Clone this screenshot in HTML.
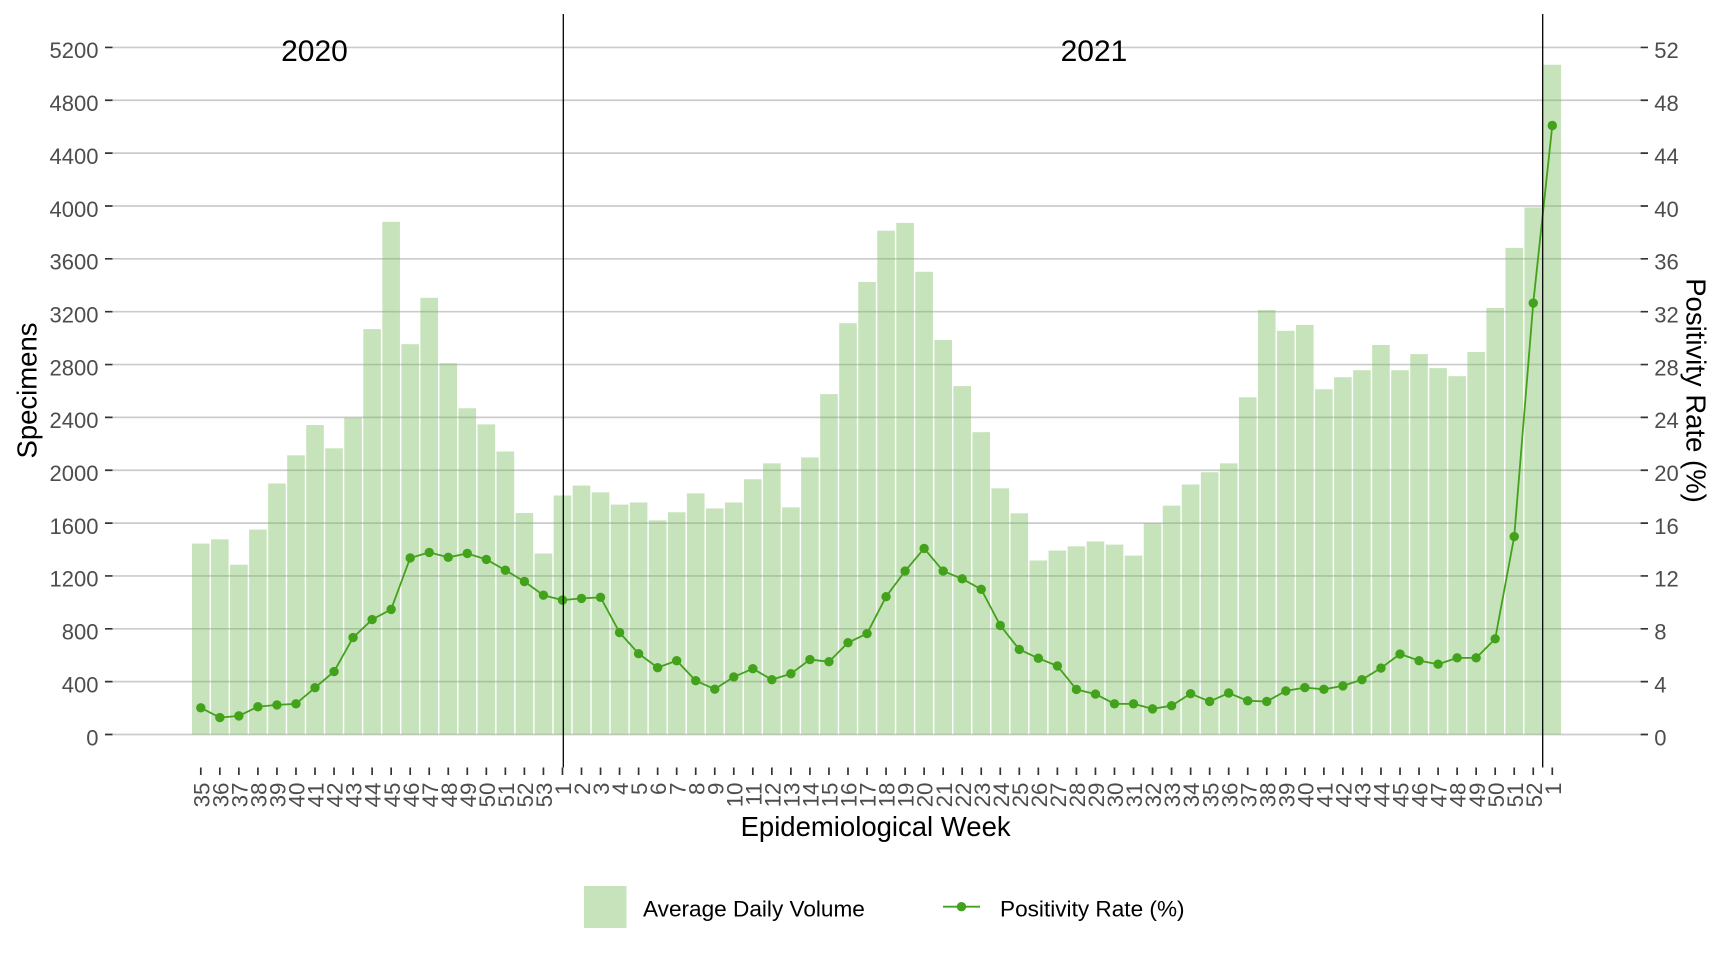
<!DOCTYPE html>
<html>
<head>
<meta charset="utf-8">
<style>
html,body{margin:0;padding:0;background:#fff;}
svg{display:block;}
text{font-family:"Liberation Sans",Arial,sans-serif;}
.yl{font-size:22px;fill:#4d4d4d;text-anchor:end;}
.yr{font-size:22px;fill:#4d4d4d;text-anchor:start;}
.xl{font-size:22.4px;fill:#4d4d4d;text-anchor:end;}
.ttl{font-size:27.5px;fill:#000;text-anchor:middle;}
.yr20{font-size:30px;fill:#000;text-anchor:middle;}
.lg{font-size:22.6px;fill:#000;}
</style>
</head>
<body>
<svg width="1728" height="960" viewBox="0 0 1728 960" xmlns="http://www.w3.org/2000/svg">
<rect width="1728" height="960" fill="#fff"/>

<!-- gridlines -->
<g stroke="#cccccc" stroke-width="1.7">
<line x1="112.5" x2="1640" y1="734.5" y2="734.5"/>
<line x1="112.5" x2="1640" y1="681.65" y2="681.65"/>
<line x1="112.5" x2="1640" y1="628.8" y2="628.8"/>
<line x1="112.5" x2="1640" y1="575.94" y2="575.94"/>
<line x1="112.5" x2="1640" y1="523.09" y2="523.09"/>
<line x1="112.5" x2="1640" y1="470.24" y2="470.24"/>
<line x1="112.5" x2="1640" y1="417.39" y2="417.39"/>
<line x1="112.5" x2="1640" y1="364.54" y2="364.54"/>
<line x1="112.5" x2="1640" y1="311.68" y2="311.68"/>
<line x1="112.5" x2="1640" y1="258.83" y2="258.83"/>
<line x1="112.5" x2="1640" y1="205.98" y2="205.98"/>
<line x1="112.5" x2="1640" y1="153.13" y2="153.13"/>
<line x1="112.5" x2="1640" y1="100.28" y2="100.28"/>
<line x1="112.5" x2="1640" y1="47.42" y2="47.42"/>
</g>

<!-- y ticks -->
<g stroke="#333333" stroke-width="1.7">
<path d="M105 734.5H112.5M105 681.65H112.5M105 628.8H112.5M105 575.94H112.5M105 523.09H112.5M105 470.24H112.5M105 417.39H112.5M105 364.54H112.5M105 311.68H112.5M105 258.83H112.5M105 205.98H112.5M105 153.13H112.5M105 100.28H112.5M105 47.42H112.5"/>
<path d="M1640.5 734.5H1648M1640.5 681.65H1648M1640.5 628.8H1648M1640.5 575.94H1648M1640.5 523.09H1648M1640.5 470.24H1648M1640.5 417.39H1648M1640.5 364.54H1648M1640.5 311.68H1648M1640.5 258.83H1648M1640.5 205.98H1648M1640.5 153.13H1648M1640.5 100.28H1648M1640.5 47.42H1648"/>
</g>

<!-- left labels -->
<g>
<text class="yl" x="98.5" y="745.3">0</text>
<text class="yl" x="98.5" y="692.45">400</text>
<text class="yl" x="98.5" y="639.6">800</text>
<text class="yl" x="98.5" y="586.74">1200</text>
<text class="yl" x="98.5" y="533.89">1600</text>
<text class="yl" x="98.5" y="481.04">2000</text>
<text class="yl" x="98.5" y="428.19">2400</text>
<text class="yl" x="98.5" y="375.34">2800</text>
<text class="yl" x="98.5" y="322.48">3200</text>
<text class="yl" x="98.5" y="269.63">3600</text>
<text class="yl" x="98.5" y="216.78">4000</text>
<text class="yl" x="98.5" y="163.93">4400</text>
<text class="yl" x="98.5" y="111.08">4800</text>
<text class="yl" x="98.5" y="58.22">5200</text>
</g>

<!-- right labels -->
<g>
<text class="yr" x="1654.3" y="745.3">0</text>
<text class="yr" x="1654.3" y="692.45">4</text>
<text class="yr" x="1654.3" y="639.6">8</text>
<text class="yr" x="1654.3" y="586.74">12</text>
<text class="yr" x="1654.3" y="533.89">16</text>
<text class="yr" x="1654.3" y="481.04">20</text>
<text class="yr" x="1654.3" y="428.19">24</text>
<text class="yr" x="1654.3" y="375.34">28</text>
<text class="yr" x="1654.3" y="322.48">32</text>
<text class="yr" x="1654.3" y="269.63">36</text>
<text class="yr" x="1654.3" y="216.78">40</text>
<text class="yr" x="1654.3" y="163.93">44</text>
<text class="yr" x="1654.3" y="111.08">48</text>
<text class="yr" x="1654.3" y="58.22">52</text>
</g>

<!-- bars -->
<g transform="translate(192,734.5) scale(19.035,-0.13213)" fill="#74ba56" fill-opacity="0.4">
<rect x="0" width="0.9246" height="1445"/>
<rect x="1" width="0.9246" height="1477"/>
<rect x="2" width="0.9246" height="1285"/>
<rect x="3" width="0.9246" height="1551"/>
<rect x="4" width="0.9246" height="1900"/>
<rect x="5" width="0.9246" height="2113"/>
<rect x="6" width="0.9246" height="2342"/>
<rect x="7" width="0.9246" height="2166"/>
<rect x="8" width="0.9246" height="2398"/>
<rect x="9" width="0.9246" height="3068"/>
<rect x="10" width="0.9246" height="3880"/>
<rect x="11" width="0.9246" height="2954"/>
<rect x="12" width="0.9246" height="3305"/>
<rect x="13" width="0.9246" height="2810"/>
<rect x="14" width="0.9246" height="2469"/>
<rect x="15" width="0.9246" height="2347"/>
<rect x="16" width="0.9246" height="2142"/>
<rect x="17" width="0.9246" height="1676"/>
<rect x="18" width="0.9246" height="1370"/>
<rect x="19" width="0.9246" height="1809"/>
<rect x="20" width="0.9246" height="1884"/>
<rect x="21" width="0.9246" height="1833"/>
<rect x="22" width="0.9246" height="1740"/>
<rect x="23" width="0.9246" height="1756"/>
<rect x="24" width="0.9246" height="1621"/>
<rect x="25" width="0.9246" height="1682"/>
<rect x="26" width="0.9246" height="1825"/>
<rect x="27" width="0.9246" height="1711"/>
<rect x="28" width="0.9246" height="1756"/>
<rect x="29" width="0.9246" height="1932"/>
<rect x="30" width="0.9246" height="2052"/>
<rect x="31" width="0.9246" height="1719"/>
<rect x="32" width="0.9246" height="2097"/>
<rect x="33" width="0.9246" height="2576"/>
<rect x="34" width="0.9246" height="3113"/>
<rect x="35" width="0.9246" height="3425"/>
<rect x="36" width="0.9246" height="3813"/>
<rect x="37" width="0.9246" height="3872"/>
<rect x="38" width="0.9246" height="3502"/>
<rect x="39" width="0.9246" height="2986"/>
<rect x="40" width="0.9246" height="2637"/>
<rect x="41" width="0.9246" height="2288"/>
<rect x="42" width="0.9246" height="1863"/>
<rect x="43" width="0.9246" height="1674"/>
<rect x="44" width="0.9246" height="1317"/>
<rect x="45" width="0.9246" height="1392"/>
<rect x="46" width="0.9246" height="1424"/>
<rect x="47" width="0.9246" height="1461"/>
<rect x="48" width="0.9246" height="1437"/>
<rect x="49" width="0.9246" height="1354"/>
<rect x="50" width="0.9246" height="1599"/>
<rect x="51" width="0.9246" height="1732"/>
<rect x="52" width="0.9246" height="1892"/>
<rect x="53" width="0.9246" height="1985"/>
<rect x="54" width="0.9246" height="2052"/>
<rect x="55" width="0.9246" height="2552"/>
<rect x="56" width="0.9246" height="3212"/>
<rect x="57" width="0.9246" height="3055"/>
<rect x="58" width="0.9246" height="3100"/>
<rect x="59" width="0.9246" height="2613"/>
<rect x="60" width="0.9246" height="2704"/>
<rect x="61" width="0.9246" height="2757"/>
<rect x="62" width="0.9246" height="2948"/>
<rect x="63" width="0.9246" height="2757"/>
<rect x="64" width="0.9246" height="2879"/>
<rect x="65" width="0.9246" height="2773"/>
<rect x="66" width="0.9246" height="2712"/>
<rect x="67" width="0.9246" height="2895"/>
<rect x="68" width="0.9246" height="3228"/>
<rect x="69" width="0.9246" height="3683"/>
<rect x="70" width="0.9246" height="3989"/>
<rect x="71" width="0.9246" height="5069"/>
</g>

<!-- positivity line -->
<polyline fill="none" stroke="#43a21b" stroke-width="1.8" stroke-linejoin="round" points="200.80,707.81 219.84,717.59 238.87,715.87 257.91,706.75 276.94,704.90 295.98,703.85 315.01,687.73 334.05,671.61 353.08,637.52 372.12,619.55 391.15,609.37 410.19,557.97 429.22,552.42 448.26,557.31 467.29,553.48 486.33,559.43 505.36,570.26 524.40,581.49 543.43,595.23 562.47,600.12 581.50,598.41 600.54,597.35 619.57,632.50 638.61,653.64 657.64,667.64 676.68,660.64 695.71,680.72 714.75,689.18 733.78,676.89 752.82,668.70 771.85,679.67 790.89,673.72 809.92,659.58 828.96,661.70 847.99,642.67 867.03,633.55 886.06,596.69 905.10,571.06 924.13,548.46 943.17,571.06 962.20,578.85 981.24,589.29 1000.27,625.49 1019.31,649.41 1038.34,658.26 1057.38,665.92 1076.41,689.44 1095.45,694.07 1114.48,703.85 1133.52,703.85 1152.55,708.87 1171.59,705.70 1190.62,693.67 1209.66,701.47 1228.69,693.01 1247.73,700.81 1266.76,701.47 1285.80,690.90 1304.83,687.59 1323.87,689.31 1342.90,685.88 1361.94,679.67 1380.97,668.04 1400.01,654.03 1419.04,660.64 1438.08,664.21 1457.11,657.86 1476.15,657.86 1495.18,638.84 1514.22,536.57 1533.25,303.10 1552.29,125.51"/>

<!-- points -->
<g fill="#43a21b">
<circle cx="200.80" cy="707.81" r="4.7"/>
<circle cx="219.84" cy="717.59" r="4.7"/>
<circle cx="238.87" cy="715.87" r="4.7"/>
<circle cx="257.91" cy="706.75" r="4.7"/>
<circle cx="276.94" cy="704.90" r="4.7"/>
<circle cx="295.98" cy="703.85" r="4.7"/>
<circle cx="315.01" cy="687.73" r="4.7"/>
<circle cx="334.05" cy="671.61" r="4.7"/>
<circle cx="353.08" cy="637.52" r="4.7"/>
<circle cx="372.12" cy="619.55" r="4.7"/>
<circle cx="391.15" cy="609.37" r="4.7"/>
<circle cx="410.19" cy="557.97" r="4.7"/>
<circle cx="429.22" cy="552.42" r="4.7"/>
<circle cx="448.26" cy="557.31" r="4.7"/>
<circle cx="467.29" cy="553.48" r="4.7"/>
<circle cx="486.33" cy="559.43" r="4.7"/>
<circle cx="505.36" cy="570.26" r="4.7"/>
<circle cx="524.40" cy="581.49" r="4.7"/>
<circle cx="543.43" cy="595.23" r="4.7"/>
<circle cx="562.47" cy="600.12" r="4.7"/>
<circle cx="581.50" cy="598.41" r="4.7"/>
<circle cx="600.54" cy="597.35" r="4.7"/>
<circle cx="619.57" cy="632.50" r="4.7"/>
<circle cx="638.61" cy="653.64" r="4.7"/>
<circle cx="657.64" cy="667.64" r="4.7"/>
<circle cx="676.68" cy="660.64" r="4.7"/>
<circle cx="695.71" cy="680.72" r="4.7"/>
<circle cx="714.75" cy="689.18" r="4.7"/>
<circle cx="733.78" cy="676.89" r="4.7"/>
<circle cx="752.82" cy="668.70" r="4.7"/>
<circle cx="771.85" cy="679.67" r="4.7"/>
<circle cx="790.89" cy="673.72" r="4.7"/>
<circle cx="809.92" cy="659.58" r="4.7"/>
<circle cx="828.96" cy="661.70" r="4.7"/>
<circle cx="847.99" cy="642.67" r="4.7"/>
<circle cx="867.03" cy="633.55" r="4.7"/>
<circle cx="886.06" cy="596.69" r="4.7"/>
<circle cx="905.10" cy="571.06" r="4.7"/>
<circle cx="924.13" cy="548.46" r="4.7"/>
<circle cx="943.17" cy="571.06" r="4.7"/>
<circle cx="962.20" cy="578.85" r="4.7"/>
<circle cx="981.24" cy="589.29" r="4.7"/>
<circle cx="1000.27" cy="625.49" r="4.7"/>
<circle cx="1019.31" cy="649.41" r="4.7"/>
<circle cx="1038.34" cy="658.26" r="4.7"/>
<circle cx="1057.38" cy="665.92" r="4.7"/>
<circle cx="1076.41" cy="689.44" r="4.7"/>
<circle cx="1095.45" cy="694.07" r="4.7"/>
<circle cx="1114.48" cy="703.85" r="4.7"/>
<circle cx="1133.52" cy="703.85" r="4.7"/>
<circle cx="1152.55" cy="708.87" r="4.7"/>
<circle cx="1171.59" cy="705.70" r="4.7"/>
<circle cx="1190.62" cy="693.67" r="4.7"/>
<circle cx="1209.66" cy="701.47" r="4.7"/>
<circle cx="1228.69" cy="693.01" r="4.7"/>
<circle cx="1247.73" cy="700.81" r="4.7"/>
<circle cx="1266.76" cy="701.47" r="4.7"/>
<circle cx="1285.80" cy="690.90" r="4.7"/>
<circle cx="1304.83" cy="687.59" r="4.7"/>
<circle cx="1323.87" cy="689.31" r="4.7"/>
<circle cx="1342.90" cy="685.88" r="4.7"/>
<circle cx="1361.94" cy="679.67" r="4.7"/>
<circle cx="1380.97" cy="668.04" r="4.7"/>
<circle cx="1400.01" cy="654.03" r="4.7"/>
<circle cx="1419.04" cy="660.64" r="4.7"/>
<circle cx="1438.08" cy="664.21" r="4.7"/>
<circle cx="1457.11" cy="657.86" r="4.7"/>
<circle cx="1476.15" cy="657.86" r="4.7"/>
<circle cx="1495.18" cy="638.84" r="4.7"/>
<circle cx="1514.22" cy="536.57" r="4.7"/>
<circle cx="1533.25" cy="303.10" r="4.7"/>
<circle cx="1552.29" cy="125.51" r="4.7"/>
</g>

<!-- vertical year lines -->
<g stroke="#000" stroke-width="1.3">
<line x1="563.3" x2="563.3" y1="14" y2="767.5"/>
<line x1="1542.7" x2="1542.7" y1="14" y2="767.5"/>
</g>

<!-- year annotations -->
<text class="yr20" x="314.5" y="61">2020</text>
<text class="yr20" x="1094" y="61">2021</text>

<!-- x ticks -->
<path stroke="#333333" stroke-width="1.7" d="M200.80 767.5v7.5M219.84 767.5v7.5M238.87 767.5v7.5M257.91 767.5v7.5M276.94 767.5v7.5M295.98 767.5v7.5M315.01 767.5v7.5M334.05 767.5v7.5M353.08 767.5v7.5M372.12 767.5v7.5M391.15 767.5v7.5M410.19 767.5v7.5M429.22 767.5v7.5M448.26 767.5v7.5M467.29 767.5v7.5M486.33 767.5v7.5M505.36 767.5v7.5M524.40 767.5v7.5M543.43 767.5v7.5M562.47 767.5v7.5M581.50 767.5v7.5M600.54 767.5v7.5M619.57 767.5v7.5M638.61 767.5v7.5M657.64 767.5v7.5M676.68 767.5v7.5M695.71 767.5v7.5M714.75 767.5v7.5M733.78 767.5v7.5M752.82 767.5v7.5M771.85 767.5v7.5M790.89 767.5v7.5M809.92 767.5v7.5M828.96 767.5v7.5M847.99 767.5v7.5M867.03 767.5v7.5M886.06 767.5v7.5M905.10 767.5v7.5M924.13 767.5v7.5M943.17 767.5v7.5M962.20 767.5v7.5M981.24 767.5v7.5M1000.27 767.5v7.5M1019.31 767.5v7.5M1038.34 767.5v7.5M1057.38 767.5v7.5M1076.41 767.5v7.5M1095.45 767.5v7.5M1114.48 767.5v7.5M1133.52 767.5v7.5M1152.55 767.5v7.5M1171.59 767.5v7.5M1190.62 767.5v7.5M1209.66 767.5v7.5M1228.69 767.5v7.5M1247.73 767.5v7.5M1266.76 767.5v7.5M1285.80 767.5v7.5M1304.83 767.5v7.5M1323.87 767.5v7.5M1342.90 767.5v7.5M1361.94 767.5v7.5M1380.97 767.5v7.5M1400.01 767.5v7.5M1419.04 767.5v7.5M1438.08 767.5v7.5M1457.11 767.5v7.5M1476.15 767.5v7.5M1495.18 767.5v7.5M1514.22 767.5v7.5M1533.25 767.5v7.5M1552.29 767.5v7.5"/>

<!-- x labels -->
<g>
<text class="xl" transform="translate(209.40,782.5) rotate(-90)">35</text>
<text class="xl" transform="translate(228.44,782.5) rotate(-90)">36</text>
<text class="xl" transform="translate(247.47,782.5) rotate(-90)">37</text>
<text class="xl" transform="translate(266.51,782.5) rotate(-90)">38</text>
<text class="xl" transform="translate(285.54,782.5) rotate(-90)">39</text>
<text class="xl" transform="translate(304.58,782.5) rotate(-90)">40</text>
<text class="xl" transform="translate(323.61,782.5) rotate(-90)">41</text>
<text class="xl" transform="translate(342.65,782.5) rotate(-90)">42</text>
<text class="xl" transform="translate(361.68,782.5) rotate(-90)">43</text>
<text class="xl" transform="translate(380.72,782.5) rotate(-90)">44</text>
<text class="xl" transform="translate(399.75,782.5) rotate(-90)">45</text>
<text class="xl" transform="translate(418.79,782.5) rotate(-90)">46</text>
<text class="xl" transform="translate(437.82,782.5) rotate(-90)">47</text>
<text class="xl" transform="translate(456.86,782.5) rotate(-90)">48</text>
<text class="xl" transform="translate(475.89,782.5) rotate(-90)">49</text>
<text class="xl" transform="translate(494.93,782.5) rotate(-90)">50</text>
<text class="xl" transform="translate(513.96,782.5) rotate(-90)">51</text>
<text class="xl" transform="translate(533.00,782.5) rotate(-90)">52</text>
<text class="xl" transform="translate(552.03,782.5) rotate(-90)">53</text>
<text class="xl" transform="translate(571.07,782.5) rotate(-90)">1</text>
<text class="xl" transform="translate(590.10,782.5) rotate(-90)">2</text>
<text class="xl" transform="translate(609.14,782.5) rotate(-90)">3</text>
<text class="xl" transform="translate(628.17,782.5) rotate(-90)">4</text>
<text class="xl" transform="translate(647.21,782.5) rotate(-90)">5</text>
<text class="xl" transform="translate(666.24,782.5) rotate(-90)">6</text>
<text class="xl" transform="translate(685.28,782.5) rotate(-90)">7</text>
<text class="xl" transform="translate(704.31,782.5) rotate(-90)">8</text>
<text class="xl" transform="translate(723.35,782.5) rotate(-90)">9</text>
<text class="xl" transform="translate(742.38,782.5) rotate(-90)">10</text>
<text class="xl" transform="translate(761.42,782.5) rotate(-90)">11</text>
<text class="xl" transform="translate(780.45,782.5) rotate(-90)">12</text>
<text class="xl" transform="translate(799.49,782.5) rotate(-90)">13</text>
<text class="xl" transform="translate(818.52,782.5) rotate(-90)">14</text>
<text class="xl" transform="translate(837.56,782.5) rotate(-90)">15</text>
<text class="xl" transform="translate(856.59,782.5) rotate(-90)">16</text>
<text class="xl" transform="translate(875.63,782.5) rotate(-90)">17</text>
<text class="xl" transform="translate(894.66,782.5) rotate(-90)">18</text>
<text class="xl" transform="translate(913.70,782.5) rotate(-90)">19</text>
<text class="xl" transform="translate(932.73,782.5) rotate(-90)">20</text>
<text class="xl" transform="translate(951.77,782.5) rotate(-90)">21</text>
<text class="xl" transform="translate(970.80,782.5) rotate(-90)">22</text>
<text class="xl" transform="translate(989.84,782.5) rotate(-90)">23</text>
<text class="xl" transform="translate(1008.87,782.5) rotate(-90)">24</text>
<text class="xl" transform="translate(1027.91,782.5) rotate(-90)">25</text>
<text class="xl" transform="translate(1046.94,782.5) rotate(-90)">26</text>
<text class="xl" transform="translate(1065.98,782.5) rotate(-90)">27</text>
<text class="xl" transform="translate(1085.01,782.5) rotate(-90)">28</text>
<text class="xl" transform="translate(1104.05,782.5) rotate(-90)">29</text>
<text class="xl" transform="translate(1123.08,782.5) rotate(-90)">30</text>
<text class="xl" transform="translate(1142.12,782.5) rotate(-90)">31</text>
<text class="xl" transform="translate(1161.15,782.5) rotate(-90)">32</text>
<text class="xl" transform="translate(1180.19,782.5) rotate(-90)">33</text>
<text class="xl" transform="translate(1199.22,782.5) rotate(-90)">34</text>
<text class="xl" transform="translate(1218.26,782.5) rotate(-90)">35</text>
<text class="xl" transform="translate(1237.29,782.5) rotate(-90)">36</text>
<text class="xl" transform="translate(1256.33,782.5) rotate(-90)">37</text>
<text class="xl" transform="translate(1275.36,782.5) rotate(-90)">38</text>
<text class="xl" transform="translate(1294.40,782.5) rotate(-90)">39</text>
<text class="xl" transform="translate(1313.43,782.5) rotate(-90)">40</text>
<text class="xl" transform="translate(1332.47,782.5) rotate(-90)">41</text>
<text class="xl" transform="translate(1351.50,782.5) rotate(-90)">42</text>
<text class="xl" transform="translate(1370.54,782.5) rotate(-90)">43</text>
<text class="xl" transform="translate(1389.57,782.5) rotate(-90)">44</text>
<text class="xl" transform="translate(1408.61,782.5) rotate(-90)">45</text>
<text class="xl" transform="translate(1427.64,782.5) rotate(-90)">46</text>
<text class="xl" transform="translate(1446.68,782.5) rotate(-90)">47</text>
<text class="xl" transform="translate(1465.71,782.5) rotate(-90)">48</text>
<text class="xl" transform="translate(1484.75,782.5) rotate(-90)">49</text>
<text class="xl" transform="translate(1503.78,782.5) rotate(-90)">50</text>
<text class="xl" transform="translate(1522.82,782.5) rotate(-90)">51</text>
<text class="xl" transform="translate(1541.85,782.5) rotate(-90)">52</text>
<text class="xl" transform="translate(1560.89,782.5) rotate(-90)">1</text>
</g>

<!-- axis titles -->
<text class="ttl" x="875.6" y="836">Epidemiological Week</text>
<text class="ttl" transform="translate(36.4,390.5) rotate(-90)">Specimens</text>
<text class="ttl" transform="translate(1686.3,390.5) rotate(90)">Positivity Rate (%)</text>

<!-- legend -->
<rect x="584" y="886" width="42.5" height="42" fill="#74ba56" fill-opacity="0.4"/>
<text class="lg" x="643" y="916.7">Average Daily Volume</text>
<line x1="943" x2="980" y1="906.7" y2="906.7" stroke="#43a21b" stroke-width="1.8"/>
<circle cx="961.5" cy="906.7" r="4.7" fill="#43a21b"/>
<text class="lg" x="1000" y="916.7">Positivity Rate (%)</text>
</svg>
</body>
</html>
